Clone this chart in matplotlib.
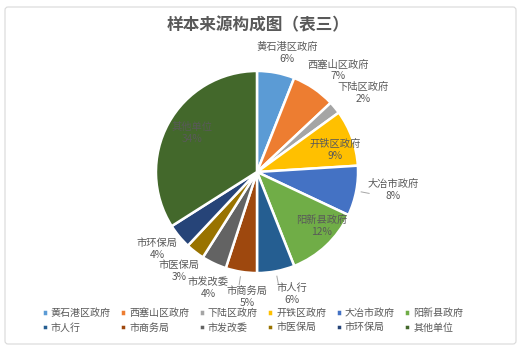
import numpy as np
import matplotlib
matplotlib.use('Agg')
import matplotlib.pyplot as plt
from matplotlib.patches import FancyBboxPatch

plt.rcParams['font.family'] = ['Noto Sans CJK SC', 'DejaVu Sans']

TITLE = '样本来源构成图（表三）'
units = ['黄石港区政府', '西塞山区政府', '下陆区政府', '开铁区政府', '大冶市政府',
         '阳新县政府', '市人行', '市商务局', '市发改委', '市医保局', '市环保局', '其他单位']
shares = [6, 7, 2, 9, 8, 12, 6, 5, 4, 3, 4, 34]
colors = ['#5B9BD5', '#ED7D31', '#A5A5A5', '#FFC000', '#4472C4', '#70AD47',
          '#255E91', '#9E480E', '#636363', '#997300', '#264478', '#43682B']
# label distance (in radii) and angular nudge (deg) for each slice label
label_dist = [1.18, 1.25, 1.27, 0.78, 1.32, 0.81, 1.22, 1.21, 1.21, 1.21, 1.21, 0.73]
label_nudge = [-3.3, -4.3, -2.9, -4, 3.3, 7.1, 5.2, 4.4, 2.3, -0.4, -2, -2.2]
leader = [False, False, False, False, True, False, True, True,
          False, False, False, False]

W, H = 526, 352
fig = plt.figure(figsize=(W / 100, H / 100), dpi=100)
ax = fig.add_axes([0, 0, 1, 1])

cx, cy, r = 257, 180, 101
wedges, _ = ax.pie(shares, colors=colors, startangle=90, counterclock=False,
                   center=(cx, cy), radius=r, explode=[0.04] * len(shares),
                   wedgeprops=dict(edgecolor='white', linewidth=1.8), frame=True)
ax.set_xlim(0, W)
ax.set_ylim(0, H)
ax.set_aspect('equal')
ax.axis('off')

# chart frame
frame = FancyBboxPatch((5, 8), 511, 337, boxstyle='round,pad=0,rounding_size=3',
                       fc='none', ec='#d9d9d9', lw=0.8, zorder=0)
ax.add_patch(frame)

total = sum(shares)
start = 90.0
for i, (name, v) in enumerate(zip(units, shares)):
    mid = start - 360.0 * (v / 2) / total
    start -= 360.0 * v / total
    a = np.deg2rad(mid + label_nudge[i])
    d = label_dist[i] * 104
    x, y = cx + d * np.cos(a), cy + d * np.sin(a)
    ax.text(x, y, f'{name}\n{v}%', ha='center', va='center', fontsize=7.4,
            color='#595959', linespacing=1.2)
    if leader[i]:
        am = np.deg2rad(mid)
        p0 = (cx + 1.05 * r * np.cos(am), cy + 1.05 * r * np.sin(am))
        p1 = (cx + 1.13 * r * np.cos(am), cy + 1.13 * r * np.sin(am))
        ax.plot([p0[0], p1[0]], [p0[1], p1[1]], color='#a6a6a6', lw=0.7)

ax.text(W / 2 - 5, 327, TITLE, ha='center', va='center', fontsize=12,
        fontweight='bold', color='#595959')

# legend filled row by row
ncol = 6
order = [j * ncol + k for k in range(ncol) for j in range(2)]
leg = fig.legend([wedges[i] for i in order], [units[i] for i in order],
                 loc='lower center', bbox_to_anchor=(0.48, 0.03),
                 ncol=ncol, fontsize=7.2, frameon=False, handlelength=0.6,
                 handleheight=0.6, handletextpad=0.3, columnspacing=0.95,
                 labelspacing=0.45, labelcolor='#595959')

fig.savefig('out.png', dpi=100)
